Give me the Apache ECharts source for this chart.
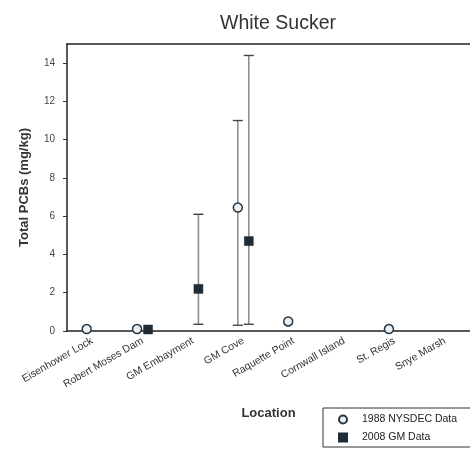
<!DOCTYPE html>
<html>
<head>
<meta charset="utf-8">
<script src="https://cdn.jsdelivr.net/npm/echarts@6/dist/echarts.min.js"></script>
<style>html,body{margin:0;padding:0;background:#fff}#c{width:470px;height:451px}</style>
</head>
<body>
<div id="c"></div>
<script>
const categories = ['Eisenhower Lock','Robert Moses Dam','GM Embayment','GM Cove','Raquette Point','Cornwall Island','St. Regis','Snye Marsh'];
const nysdec1988 = [0.1, 0.1, null, 6.45, 0.5, null, 0.1, null];
const nysdec1988Low = [null, null, null, 0.3, null, null, null, null];
const nysdec1988High = [null, null, null, 11.0, null, null, null, null];
const gm2008 = [null, 0.08, 2.2, 4.7, null, null, null, null];
const gm2008Low = [null, null, 0.35, 0.35, null, null, null, null];
const gm2008High = [null, null, 6.1, 14.4, null, null, null, null];
const yTicks = [0, 2, 4, 6, 8, 10, 12, 14];

const FONT = 'Liberation Sans, Arial, sans-serif';
const OFF1988 = -5.5, OFF2008 = 5.5;

function pts(vals) {
  const out = [];
  vals.forEach((v, i) => { if (v !== null) out.push([i, v]); });
  return out;
}
function errs(lo, hi) {
  const out = [];
  lo.forEach((v, i) => { if (v !== null) out.push([i, v, hi[i]]); });
  return out;
}
function errRender(offset) {
  return function (params, api) {
    const lo = api.coord([api.value(0), api.value(1)]);
    const hi = api.coord([api.value(0), api.value(2)]);
    const x = lo[0] + offset;
    const cap = 5;
    const style = { stroke: '#8f8f8f', lineWidth: 1.6 };
    return {
      type: 'group',
      children: [
        { type: 'line', shape: { x1: x, y1: lo[1], x2: x, y2: hi[1] }, style },
        { type: 'line', shape: { x1: x - cap, y1: lo[1], x2: x + cap, y2: lo[1] }, style: { stroke: '#444', lineWidth: 1.4 } },
        { type: 'line', shape: { x1: x - cap, y1: hi[1], x2: x + cap, y2: hi[1] }, style: { stroke: '#444', lineWidth: 1.4 } }
      ]
    };
  };
}

const chart = echarts.init(document.getElementById('c'));
chart.setOption({
  animation: false,
  backgroundColor: '#fff',
  textStyle: { fontFamily: FONT },
  title: {
    text: 'White Sucker', left: 273, top: 9, textAlign: 'center',
    textStyle: { fontFamily: FONT, fontSize: 19.5, fontWeight: 'normal', color: '#333' }
  },
  grid: { left: 67, right: -11, top: 44, bottom: 120, containLabel: false },
  legend: {
    orient: 'vertical', left: 323, top: 408,
    padding: [6, 80, 4, 15],
    borderColor: '#333', borderWidth: 1,
    itemWidth: 8, itemHeight: 8, itemGap: 7,
    textStyle: { fontFamily: FONT, fontSize: 10.5, color: '#222', padding: [0, 0, 0, 10] },
    data: ['1988 NYSDEC Data', '2008 GM Data']
  },
  xAxis: [{
    type: 'category', data: categories, boundaryGap: true,
    name: 'Location', nameLocation: 'middle', nameGap: 76,
    nameTextStyle: { fontFamily: FONT, fontSize: 13, fontWeight: 'bold', color: '#333' },
    axisLine: { lineStyle: { color: '#222', width: 1.5 } },
    axisTick: { alignWithLabel: true, length: 4, lineStyle: { color: '#333' } },
    axisLabel: { rotate: 30, fontSize: 10.5, color: '#333', margin: 9, interval: 0, fontFamily: FONT },
    splitLine: { show: false }
  }, {
    type: 'category', data: categories, position: 'top',
    axisLine: { show: true, lineStyle: { color: '#222', width: 1.5 } },
    axisTick: { show: false }, axisLabel: { show: false }, splitLine: { show: false }
  }],
  yAxis: {
    type: 'value', min: 0, max: 15,
    name: 'Total PCBs (mg/kg)', nameLocation: 'middle', nameGap: 36,
    nameTextStyle: { fontFamily: FONT, fontSize: 13, fontWeight: 'bold', color: '#333' },
    axisLine: { show: true, lineStyle: { color: '#222', width: 1.5 } },
    axisTick: { show: true, length: 4, customValues: yTicks, lineStyle: { color: '#333' } },
    axisLabel: { fontSize: 10, color: '#444', margin: 12, customValues: yTicks, fontFamily: FONT },
    splitLine: { show: false }
  },
  series: [
    {
      type: 'custom', xAxisIndex: 0, renderItem: errRender(OFF1988),
      data: errs(nysdec1988Low, nysdec1988High), z: 1, silent: true
    },
    {
      type: 'custom', xAxisIndex: 0, renderItem: errRender(OFF2008),
      data: errs(gm2008Low, gm2008High), z: 1, silent: true
    },
    {
      name: '1988 NYSDEC Data', type: 'scatter', xAxisIndex: 0,
      symbol: 'circle', symbolSize: 9, symbolOffset: [OFF1988, 0],
      itemStyle: { color: '#eaf1f6', borderColor: '#2a3640', borderWidth: 1.5, opacity: 1 },
      data: pts(nysdec1988), z: 3
    },
    {
      name: '2008 GM Data', type: 'scatter', xAxisIndex: 0,
      symbol: 'rect', symbolSize: 9, symbolOffset: [OFF2008, 0],
      itemStyle: { color: '#1f2c36', borderColor: '#1f2c36', borderWidth: 0.5, opacity: 1 },
      data: pts(gm2008), z: 3
    }
  ]
});
</script>
</body>
</html>
